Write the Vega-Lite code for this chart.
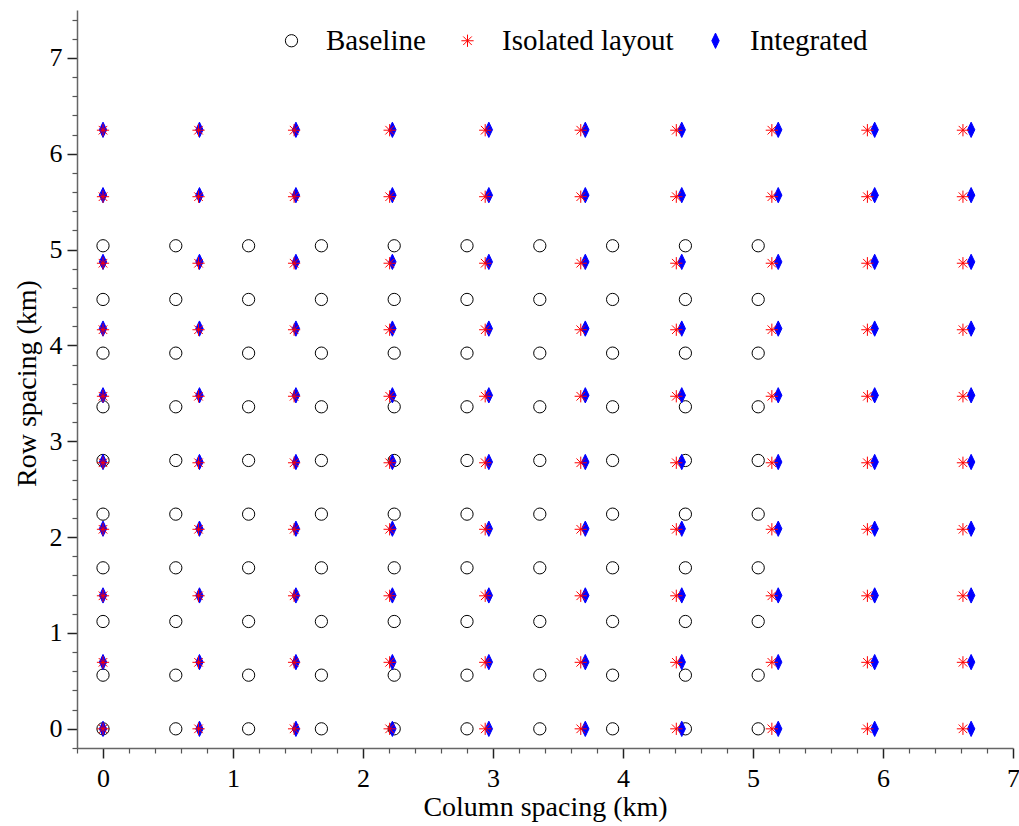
{
  "$schema": "https://vega.github.io/schema/vega-lite/v6.json",
  "width": 936,
  "height": 738,
  "autosize": "none",
  "padding": {"left": 77, "top": 10, "right": 6, "bottom": 78},
  "background": "white",
  "config": {
    "font": "Liberation Serif",
    "view": {"stroke": null},
    "legend": {
      "orient": "none",
      "legendX": 200,
      "legendY": 16,
      "direction": "horizontal",
      "labelFont": "Liberation Serif",
      "labelFontSize": 29,
      "labelColor": "black",
      "labelLimit": 400,
      "symbolSize": 150,
      "symbolStrokeWidth": 1,
      "labelOffset": 20,
      "columnPadding": 27,
      "padding": 0
    }
  },
  "data": {"values": [
    {"series":"Baseline","x":0,"y":0},{"series":"Baseline","x":0.56,"y":0},{"series":"Baseline","x":1.12,"y":0},{"series":"Baseline","x":1.68,"y":0},{"series":"Baseline","x":2.24,"y":0},{"series":"Baseline","x":2.8,"y":0},{"series":"Baseline","x":3.36,"y":0},{"series":"Baseline","x":3.92,"y":0},{"series":"Baseline","x":4.48,"y":0},{"series":"Baseline","x":5.04,"y":0},
    {"series":"Baseline","x":0,"y":0.56},{"series":"Baseline","x":0.56,"y":0.56},{"series":"Baseline","x":1.12,"y":0.56},{"series":"Baseline","x":1.68,"y":0.56},{"series":"Baseline","x":2.24,"y":0.56},{"series":"Baseline","x":2.8,"y":0.56},{"series":"Baseline","x":3.36,"y":0.56},{"series":"Baseline","x":3.92,"y":0.56},{"series":"Baseline","x":4.48,"y":0.56},{"series":"Baseline","x":5.04,"y":0.56},
    {"series":"Baseline","x":0,"y":1.12},{"series":"Baseline","x":0.56,"y":1.12},{"series":"Baseline","x":1.12,"y":1.12},{"series":"Baseline","x":1.68,"y":1.12},{"series":"Baseline","x":2.24,"y":1.12},{"series":"Baseline","x":2.8,"y":1.12},{"series":"Baseline","x":3.36,"y":1.12},{"series":"Baseline","x":3.92,"y":1.12},{"series":"Baseline","x":4.48,"y":1.12},{"series":"Baseline","x":5.04,"y":1.12},
    {"series":"Baseline","x":0,"y":1.68},{"series":"Baseline","x":0.56,"y":1.68},{"series":"Baseline","x":1.12,"y":1.68},{"series":"Baseline","x":1.68,"y":1.68},{"series":"Baseline","x":2.24,"y":1.68},{"series":"Baseline","x":2.8,"y":1.68},{"series":"Baseline","x":3.36,"y":1.68},{"series":"Baseline","x":3.92,"y":1.68},{"series":"Baseline","x":4.48,"y":1.68},{"series":"Baseline","x":5.04,"y":1.68},
    {"series":"Baseline","x":0,"y":2.24},{"series":"Baseline","x":0.56,"y":2.24},{"series":"Baseline","x":1.12,"y":2.24},{"series":"Baseline","x":1.68,"y":2.24},{"series":"Baseline","x":2.24,"y":2.24},{"series":"Baseline","x":2.8,"y":2.24},{"series":"Baseline","x":3.36,"y":2.24},{"series":"Baseline","x":3.92,"y":2.24},{"series":"Baseline","x":4.48,"y":2.24},{"series":"Baseline","x":5.04,"y":2.24},
    {"series":"Baseline","x":0,"y":2.8},{"series":"Baseline","x":0.56,"y":2.8},{"series":"Baseline","x":1.12,"y":2.8},{"series":"Baseline","x":1.68,"y":2.8},{"series":"Baseline","x":2.24,"y":2.8},{"series":"Baseline","x":2.8,"y":2.8},{"series":"Baseline","x":3.36,"y":2.8},{"series":"Baseline","x":3.92,"y":2.8},{"series":"Baseline","x":4.48,"y":2.8},{"series":"Baseline","x":5.04,"y":2.8},
    {"series":"Baseline","x":0,"y":3.36},{"series":"Baseline","x":0.56,"y":3.36},{"series":"Baseline","x":1.12,"y":3.36},{"series":"Baseline","x":1.68,"y":3.36},{"series":"Baseline","x":2.24,"y":3.36},{"series":"Baseline","x":2.8,"y":3.36},{"series":"Baseline","x":3.36,"y":3.36},{"series":"Baseline","x":3.92,"y":3.36},{"series":"Baseline","x":4.48,"y":3.36},{"series":"Baseline","x":5.04,"y":3.36},
    {"series":"Baseline","x":0,"y":3.92},{"series":"Baseline","x":0.56,"y":3.92},{"series":"Baseline","x":1.12,"y":3.92},{"series":"Baseline","x":1.68,"y":3.92},{"series":"Baseline","x":2.24,"y":3.92},{"series":"Baseline","x":2.8,"y":3.92},{"series":"Baseline","x":3.36,"y":3.92},{"series":"Baseline","x":3.92,"y":3.92},{"series":"Baseline","x":4.48,"y":3.92},{"series":"Baseline","x":5.04,"y":3.92},
    {"series":"Baseline","x":0,"y":4.48},{"series":"Baseline","x":0.56,"y":4.48},{"series":"Baseline","x":1.12,"y":4.48},{"series":"Baseline","x":1.68,"y":4.48},{"series":"Baseline","x":2.24,"y":4.48},{"series":"Baseline","x":2.8,"y":4.48},{"series":"Baseline","x":3.36,"y":4.48},{"series":"Baseline","x":3.92,"y":4.48},{"series":"Baseline","x":4.48,"y":4.48},{"series":"Baseline","x":5.04,"y":4.48},
    {"series":"Baseline","x":0,"y":5.04},{"series":"Baseline","x":0.56,"y":5.04},{"series":"Baseline","x":1.12,"y":5.04},{"series":"Baseline","x":1.68,"y":5.04},{"series":"Baseline","x":2.24,"y":5.04},{"series":"Baseline","x":2.8,"y":5.04},{"series":"Baseline","x":3.36,"y":5.04},{"series":"Baseline","x":3.92,"y":5.04},{"series":"Baseline","x":4.48,"y":5.04},{"series":"Baseline","x":5.04,"y":5.04},

    {"series":"Integrated","x":0,"y":0},{"series":"Integrated","x":0.742,"y":0},{"series":"Integrated","x":1.484,"y":0},{"series":"Integrated","x":2.226,"y":0},{"series":"Integrated","x":2.968,"y":0},{"series":"Integrated","x":3.71,"y":0},{"series":"Integrated","x":4.452,"y":0},{"series":"Integrated","x":5.194,"y":0},{"series":"Integrated","x":5.936,"y":0},{"series":"Integrated","x":6.678,"y":0},
    {"series":"Integrated","x":0,"y":0.696},{"series":"Integrated","x":0.742,"y":0.696},{"series":"Integrated","x":1.484,"y":0.696},{"series":"Integrated","x":2.226,"y":0.696},{"series":"Integrated","x":2.968,"y":0.696},{"series":"Integrated","x":3.71,"y":0.696},{"series":"Integrated","x":4.452,"y":0.696},{"series":"Integrated","x":5.194,"y":0.696},{"series":"Integrated","x":5.936,"y":0.696},{"series":"Integrated","x":6.678,"y":0.696},
    {"series":"Integrated","x":0,"y":1.392},{"series":"Integrated","x":0.742,"y":1.392},{"series":"Integrated","x":1.484,"y":1.392},{"series":"Integrated","x":2.226,"y":1.392},{"series":"Integrated","x":2.968,"y":1.392},{"series":"Integrated","x":3.71,"y":1.392},{"series":"Integrated","x":4.452,"y":1.392},{"series":"Integrated","x":5.194,"y":1.392},{"series":"Integrated","x":5.936,"y":1.392},{"series":"Integrated","x":6.678,"y":1.392},
    {"series":"Integrated","x":0,"y":2.088},{"series":"Integrated","x":0.742,"y":2.088},{"series":"Integrated","x":1.484,"y":2.088},{"series":"Integrated","x":2.226,"y":2.088},{"series":"Integrated","x":2.968,"y":2.088},{"series":"Integrated","x":3.71,"y":2.088},{"series":"Integrated","x":4.452,"y":2.088},{"series":"Integrated","x":5.194,"y":2.088},{"series":"Integrated","x":5.936,"y":2.088},{"series":"Integrated","x":6.678,"y":2.088},
    {"series":"Integrated","x":0,"y":2.784},{"series":"Integrated","x":0.742,"y":2.784},{"series":"Integrated","x":1.484,"y":2.784},{"series":"Integrated","x":2.226,"y":2.784},{"series":"Integrated","x":2.968,"y":2.784},{"series":"Integrated","x":3.71,"y":2.784},{"series":"Integrated","x":4.452,"y":2.784},{"series":"Integrated","x":5.194,"y":2.784},{"series":"Integrated","x":5.936,"y":2.784},{"series":"Integrated","x":6.678,"y":2.784},
    {"series":"Integrated","x":0,"y":3.48},{"series":"Integrated","x":0.742,"y":3.48},{"series":"Integrated","x":1.484,"y":3.48},{"series":"Integrated","x":2.226,"y":3.48},{"series":"Integrated","x":2.968,"y":3.48},{"series":"Integrated","x":3.71,"y":3.48},{"series":"Integrated","x":4.452,"y":3.48},{"series":"Integrated","x":5.194,"y":3.48},{"series":"Integrated","x":5.936,"y":3.48},{"series":"Integrated","x":6.678,"y":3.48},
    {"series":"Integrated","x":0,"y":4.176},{"series":"Integrated","x":0.742,"y":4.176},{"series":"Integrated","x":1.484,"y":4.176},{"series":"Integrated","x":2.226,"y":4.176},{"series":"Integrated","x":2.968,"y":4.176},{"series":"Integrated","x":3.71,"y":4.176},{"series":"Integrated","x":4.452,"y":4.176},{"series":"Integrated","x":5.194,"y":4.176},{"series":"Integrated","x":5.936,"y":4.176},{"series":"Integrated","x":6.678,"y":4.176},
    {"series":"Integrated","x":0,"y":4.872},{"series":"Integrated","x":0.742,"y":4.872},{"series":"Integrated","x":1.484,"y":4.872},{"series":"Integrated","x":2.226,"y":4.872},{"series":"Integrated","x":2.968,"y":4.872},{"series":"Integrated","x":3.71,"y":4.872},{"series":"Integrated","x":4.452,"y":4.872},{"series":"Integrated","x":5.194,"y":4.872},{"series":"Integrated","x":5.936,"y":4.872},{"series":"Integrated","x":6.678,"y":4.872},
    {"series":"Integrated","x":0,"y":5.568},{"series":"Integrated","x":0.742,"y":5.568},{"series":"Integrated","x":1.484,"y":5.568},{"series":"Integrated","x":2.226,"y":5.568},{"series":"Integrated","x":2.968,"y":5.568},{"series":"Integrated","x":3.71,"y":5.568},{"series":"Integrated","x":4.452,"y":5.568},{"series":"Integrated","x":5.194,"y":5.568},{"series":"Integrated","x":5.936,"y":5.568},{"series":"Integrated","x":6.678,"y":5.568},
    {"series":"Integrated","x":0,"y":6.25},{"series":"Integrated","x":0.742,"y":6.25},{"series":"Integrated","x":1.484,"y":6.25},{"series":"Integrated","x":2.226,"y":6.25},{"series":"Integrated","x":2.968,"y":6.25},{"series":"Integrated","x":3.71,"y":6.25},{"series":"Integrated","x":4.452,"y":6.25},{"series":"Integrated","x":5.194,"y":6.25},{"series":"Integrated","x":5.936,"y":6.25},{"series":"Integrated","x":6.678,"y":6.25},

    {"series":"Isolated layout","x":0,"y":0},{"series":"Isolated layout","x":0.735,"y":0},{"series":"Isolated layout","x":1.47,"y":0},{"series":"Isolated layout","x":2.205,"y":0},{"series":"Isolated layout","x":2.94,"y":0},{"series":"Isolated layout","x":3.675,"y":0},{"series":"Isolated layout","x":4.41,"y":0},{"series":"Isolated layout","x":5.145,"y":0},{"series":"Isolated layout","x":5.88,"y":0},{"series":"Isolated layout","x":6.615,"y":0},
    {"series":"Isolated layout","x":0,"y":0.694},{"series":"Isolated layout","x":0.735,"y":0.694},{"series":"Isolated layout","x":1.47,"y":0.694},{"series":"Isolated layout","x":2.205,"y":0.694},{"series":"Isolated layout","x":2.94,"y":0.694},{"series":"Isolated layout","x":3.675,"y":0.694},{"series":"Isolated layout","x":4.41,"y":0.694},{"series":"Isolated layout","x":5.145,"y":0.694},{"series":"Isolated layout","x":5.88,"y":0.694},{"series":"Isolated layout","x":6.615,"y":0.694},
    {"series":"Isolated layout","x":0,"y":1.388},{"series":"Isolated layout","x":0.735,"y":1.388},{"series":"Isolated layout","x":1.47,"y":1.388},{"series":"Isolated layout","x":2.205,"y":1.388},{"series":"Isolated layout","x":2.94,"y":1.388},{"series":"Isolated layout","x":3.675,"y":1.388},{"series":"Isolated layout","x":4.41,"y":1.388},{"series":"Isolated layout","x":5.145,"y":1.388},{"series":"Isolated layout","x":5.88,"y":1.388},{"series":"Isolated layout","x":6.615,"y":1.388},
    {"series":"Isolated layout","x":0,"y":2.082},{"series":"Isolated layout","x":0.735,"y":2.082},{"series":"Isolated layout","x":1.47,"y":2.082},{"series":"Isolated layout","x":2.205,"y":2.082},{"series":"Isolated layout","x":2.94,"y":2.082},{"series":"Isolated layout","x":3.675,"y":2.082},{"series":"Isolated layout","x":4.41,"y":2.082},{"series":"Isolated layout","x":5.145,"y":2.082},{"series":"Isolated layout","x":5.88,"y":2.082},{"series":"Isolated layout","x":6.615,"y":2.082},
    {"series":"Isolated layout","x":0,"y":2.776},{"series":"Isolated layout","x":0.735,"y":2.776},{"series":"Isolated layout","x":1.47,"y":2.776},{"series":"Isolated layout","x":2.205,"y":2.776},{"series":"Isolated layout","x":2.94,"y":2.776},{"series":"Isolated layout","x":3.675,"y":2.776},{"series":"Isolated layout","x":4.41,"y":2.776},{"series":"Isolated layout","x":5.145,"y":2.776},{"series":"Isolated layout","x":5.88,"y":2.776},{"series":"Isolated layout","x":6.615,"y":2.776},
    {"series":"Isolated layout","x":0,"y":3.47},{"series":"Isolated layout","x":0.735,"y":3.47},{"series":"Isolated layout","x":1.47,"y":3.47},{"series":"Isolated layout","x":2.205,"y":3.47},{"series":"Isolated layout","x":2.94,"y":3.47},{"series":"Isolated layout","x":3.675,"y":3.47},{"series":"Isolated layout","x":4.41,"y":3.47},{"series":"Isolated layout","x":5.145,"y":3.47},{"series":"Isolated layout","x":5.88,"y":3.47},{"series":"Isolated layout","x":6.615,"y":3.47},
    {"series":"Isolated layout","x":0,"y":4.164},{"series":"Isolated layout","x":0.735,"y":4.164},{"series":"Isolated layout","x":1.47,"y":4.164},{"series":"Isolated layout","x":2.205,"y":4.164},{"series":"Isolated layout","x":2.94,"y":4.164},{"series":"Isolated layout","x":3.675,"y":4.164},{"series":"Isolated layout","x":4.41,"y":4.164},{"series":"Isolated layout","x":5.145,"y":4.164},{"series":"Isolated layout","x":5.88,"y":4.164},{"series":"Isolated layout","x":6.615,"y":4.164},
    {"series":"Isolated layout","x":0,"y":4.858},{"series":"Isolated layout","x":0.735,"y":4.858},{"series":"Isolated layout","x":1.47,"y":4.858},{"series":"Isolated layout","x":2.205,"y":4.858},{"series":"Isolated layout","x":2.94,"y":4.858},{"series":"Isolated layout","x":3.675,"y":4.858},{"series":"Isolated layout","x":4.41,"y":4.858},{"series":"Isolated layout","x":5.145,"y":4.858},{"series":"Isolated layout","x":5.88,"y":4.858},{"series":"Isolated layout","x":6.615,"y":4.858},
    {"series":"Isolated layout","x":0,"y":5.552},{"series":"Isolated layout","x":0.735,"y":5.552},{"series":"Isolated layout","x":1.47,"y":5.552},{"series":"Isolated layout","x":2.205,"y":5.552},{"series":"Isolated layout","x":2.94,"y":5.552},{"series":"Isolated layout","x":3.675,"y":5.552},{"series":"Isolated layout","x":4.41,"y":5.552},{"series":"Isolated layout","x":5.145,"y":5.552},{"series":"Isolated layout","x":5.88,"y":5.552},{"series":"Isolated layout","x":6.615,"y":5.552},
    {"series":"Isolated layout","x":0,"y":6.246},{"series":"Isolated layout","x":0.735,"y":6.246},{"series":"Isolated layout","x":1.47,"y":6.246},{"series":"Isolated layout","x":2.205,"y":6.246},{"series":"Isolated layout","x":2.94,"y":6.246},{"series":"Isolated layout","x":3.675,"y":6.246},{"series":"Isolated layout","x":4.41,"y":6.246},{"series":"Isolated layout","x":5.145,"y":6.246},{"series":"Isolated layout","x":5.88,"y":6.246},{"series":"Isolated layout","x":6.615,"y":6.246}
  ]},
  "layer": [
    {
      "mark": {"type": "point", "size": 150, "strokeWidth": 1, "opacity": 1},
      "encoding": {
        "x": {
          "field": "x", "type": "quantitative",
          "scale": {"domain": [-0.2, 7], "nice": false, "zero": false},
          "axis": {
            "orient": "bottom",
            "values": [0, 1, 2, 3, 4, 5, 6, 7],
            "grid": false,
            "tickSize": 10, "tickWidth": 1.5, "tickColor": "#222222",
            "domainColor": "#666666", "domainWidth": 1.5,
            "labelFont": "Liberation Serif", "labelFontSize": 26, "labelColor": "black",
            "labelPadding": 7, "labelFlush": false, "labelOverlap": false,
            "title": "Column spacing (km)",
            "titleFont": "Liberation Serif", "titleFontSize": 28, "titleFontWeight": "normal", "titleColor": "black",
            "titleX": 468, "titleY": 67, "titleAlign": "center", "titleBaseline": "alphabetic"
          }
        },
        "y": {
          "field": "y", "type": "quantitative",
          "scale": {"domain": [-0.2, 7.5], "nice": false, "zero": false},
          "axis": {
            "orient": "left",
            "values": [0, 1, 2, 3, 4, 5, 6, 7],
            "grid": false,
            "tickSize": 10, "tickWidth": 1.5, "tickColor": "#222222",
            "domainColor": "#666666", "domainWidth": 1.5,
            "labelFont": "Liberation Serif", "labelFontSize": 26, "labelColor": "black",
            "labelPadding": 5, "labelOverlap": false, "labelFlush": false,
            "title": "Row spacing (km)",
            "titleFont": "Liberation Serif", "titleFontSize": 28, "titleFontWeight": "normal", "titleColor": "black",
            "titleX": -42, "titleY": 373, "titleAlign": "center", "titleBaseline": "alphabetic", "titleAngle": -90
          }
        },
        "shape": {
          "field": "series", "type": "nominal",
          "scale": {"domain": ["Baseline", "Isolated layout", "Integrated"],
                    "range": ["circle", "M-1,0L1,0M0,-1L0,1M-0.7,-0.7L0.7,0.7M-0.7,0.7L0.7,-0.7", "M0,-1.25L0.6,0L0,1.25L-0.6,0Z"]},
          "legend": {"title": null}
        },
        "stroke": {
          "field": "series", "type": "nominal",
          "scale": {"domain": ["Baseline", "Isolated layout", "Integrated"], "range": ["#000000", "#ff0000", "#0000ff"]},
          "legend": {"title": null}
        },
        "fill": {
          "field": "series", "type": "nominal",
          "scale": {"domain": ["Baseline", "Isolated layout", "Integrated"], "range": ["transparent", "transparent", "#0000ff"]},
          "legend": {"title": null}
        }
      }
    },
    {
      "mark": {"type": "point", "opacity": 0},
      "encoding": {
        "x": {
          "field": "x", "type": "quantitative",
          "axis": {
            "orient": "bottom",
            "values": [-0.2, 0.2, 0.4, 0.6, 0.8, 1.2, 1.4, 1.6, 1.8, 2.2, 2.4, 2.6, 2.8, 3.2, 3.4, 3.6, 3.8, 4.2, 4.4, 4.6, 4.8, 5.2, 5.4, 5.6, 5.8, 6.2, 6.4, 6.6, 6.8],
            "grid": false, "domain": false, "labels": false, "title": null,
            "tickSize": 5, "tickWidth": 1.2, "tickColor": "#555555"
          }
        },
        "y": {
          "field": "y", "type": "quantitative",
          "axis": {
            "orient": "left",
            "values": [-0.2, 0.2, 0.4, 0.6, 0.8, 1.2, 1.4, 1.6, 1.8, 2.2, 2.4, 2.6, 2.8, 3.2, 3.4, 3.6, 3.8, 4.2, 4.4, 4.6, 4.8, 5.2, 5.4, 5.6, 5.8, 6.2, 6.4, 6.6, 6.8, 7.2, 7.4],
            "grid": false, "domain": false, "labels": false, "title": null,
            "tickSize": 5, "tickWidth": 1.2, "tickColor": "#555555"
          }
        }
      }
    }
  ],
  "resolve": {"axis": {"x": "independent", "y": "independent"}}
}
